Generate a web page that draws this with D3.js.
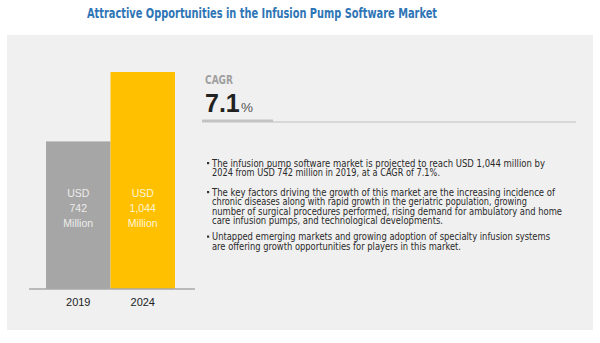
<!DOCTYPE html>
<html>
<head>
<meta charset="utf-8">
<script src="https://cdn.jsdelivr.net/npm/d3@7"></script>
<style>
  html, body { margin: 0; padding: 0; background: #ffffff; }
  svg { display: block; }
</style>
</head>
<body>
<svg id="chart" width="600" height="343"></svg>
<script>
// ---- data ----
const title = "Attractive Opportunities in the Infusion Pump Software Market";
const years = ["2019", "2024"];
const values = [742, 1044];
const valueLabels = ["742", "1,044"];
const unitTop = "USD";
const unitBottom = "Million";
const cagrLabel = "CAGR";
const cagrValue = "7.1";
const bulletLines = [
  ["The infusion pump software market is projected to reach USD 1,044  million by",
   "2024 from USD 742 million in 2019, at a CAGR of 7.1%."],
  ["The key factors driving the growth of this market are the increasing incidence of",
   "chronic diseases along with rapid growth in the geriatric population, growing",
   "number of surgical procedures performed, rising demand for ambulatory and home",
   "care infusion pumps, and technological developments."],
  ["Untapped emerging markets and growing adoption of specialty infusion systems",
   "are offering growth opportunities for players in this market."]
];

// ---- styles / layout ----
const barFill = ["#a6a6a6", "#ffc000"];
const narrow = "'Liberation Sans Narrow', 'DejaVu Sans Condensed', 'Liberation Sans', sans-serif";
const sans = "'Liberation Sans', Arial, sans-serif";
const svg = d3.select("#chart");

// panel
svg.append("rect").attr("x", 7).attr("y", 35).attr("width", 586).attr("height", 295)
  .attr("fill", "#f0f0f0");

// title
svg.append("text").attr("x", 262).attr("y", 18).attr("text-anchor", "middle")
  .attr("font-family", narrow).attr("font-weight", "bold").attr("font-size", 13.5)
  .attr("fill", "#2e75b6").attr("textLength", 350).attr("lengthAdjust", "spacingAndGlyphs")
  .text(title);

// scales
const x = d3.scaleBand().domain(years).range([46, 175]).padding(0);
const y = d3.scaleLinear().domain([100, 1044]).range([289, 72]);

// bars
svg.selectAll("rect.bar").data(years).join("rect").attr("class", "bar")
  .attr("x", d => x(d)).attr("width", x.bandwidth())
  .attr("y", (d, i) => y(values[i]))
  .attr("height", (d, i) => y.range()[0] - y(values[i]))
  .attr("fill", (d, i) => barFill[i]);

// baseline
svg.append("line").attr("x1", 29).attr("x2", 195).attr("y1", 289).attr("y2", 289)
  .attr("stroke", "#a9a9a9").attr("stroke-width", 1.5);

// bar labels
years.forEach((yr, i) => {
  const cx = x(yr) + x.bandwidth() / 2;
  const col = i === 0 ? "#ececec" : "#fff6dc";
  [unitTop, valueLabels[i], unitBottom].forEach((t, k) => {
    svg.append("text").attr("x", cx).attr("y", 196.5 + k * 15).attr("text-anchor", "middle")
      .attr("font-family", sans).attr("font-size", 10.5).attr("fill", col).text(t);
  });
});

// x axis labels
const xAxis = d3.axisBottom(x).tickSize(0).tickPadding(0);
const gx = svg.append("g").attr("transform", "translate(0,298)").call(xAxis);
gx.select(".domain").remove();
gx.selectAll("text").attr("font-family", sans).attr("font-size", 11).attr("fill", "#222")
  .attr("dy", "0.71em");

// CAGR block
svg.append("text").attr("x", 205).attr("y", 84).attr("font-family", narrow)
  .attr("font-weight", "bold").attr("font-size", 11.5).attr("fill", "#a0a0a0")
  .attr("textLength", 28).attr("lengthAdjust", "spacingAndGlyphs").text(cagrLabel);
svg.append("text").attr("x", 205).attr("y", 112).attr("font-family", sans)
  .attr("font-weight", "bold").attr("font-size", 25).attr("fill", "#222").text(cagrValue);
svg.append("text").attr("x", 241).attr("y", 112).attr("font-family", sans)
  .attr("font-size", 13.5).attr("fill", "#555").text("%");
svg.append("line").attr("x1", 273).attr("x2", 576).attr("y1", 122).attr("y2", 122)
  .attr("stroke", "#cfcfcf").attr("stroke-width", 1.5);
svg.append("rect").attr("x", 202).attr("y", 119.5).attr("width", 71).attr("height", 3)
  .attr("fill", "#c3c3c3");

// bullets
const lineWidths = [[333, 228], [343, 315, 350, 231], [338, 249]];
const groupStart = [166.5, 195.5, 240];
const lh = 9.6;
bulletLines.forEach((lines, g) => {
  svg.append("rect").attr("x", 207).attr("y", groupStart[g] - 4.5).attr("width", 2.2)
    .attr("height", 2.2).attr("fill", "#333");
  lines.forEach((ln, k) => {
    svg.append("text").attr("x", 212).attr("y", groupStart[g] + k * lh)
      .attr("font-family", narrow).attr("font-size", 10).attr("fill", "#2a2a2a")
      .attr("textLength", lineWidths[g][k]).attr("lengthAdjust", "spacingAndGlyphs")
      .text(ln);
  });
});
</script>
</body>
</html>
